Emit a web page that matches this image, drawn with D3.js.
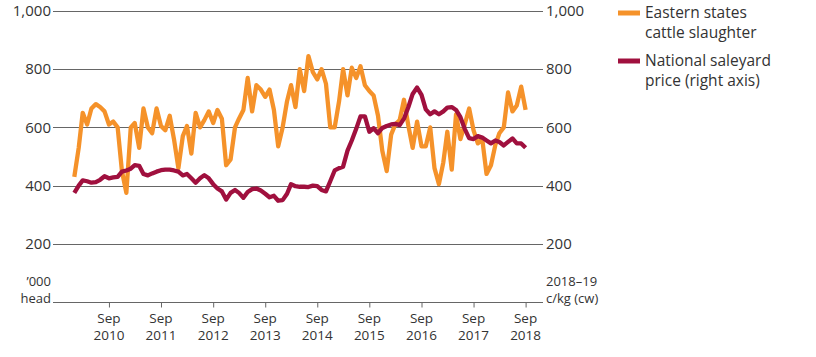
<!DOCTYPE html>
<html><head><meta charset="utf-8">
<script src="https://cdn.jsdelivr.net/npm/d3@7"></script>
<style>
body{margin:0;background:#fff;}
text{font-family:"Open Sans",Lato,sans-serif;fill:#333;}
</style></head>
<body><svg id="c" width="816" height="357"></svg>
<script>
// Monthly data, Jan 2010 – Sep 2018
const startMonth = [2010, 0];
const slaughter = [
 430,530,650,610,665,680,670,655,610,620,600,450,375,600,615,530,665,
 600,580,665,605,590,640,560,460,570,605,510,650,600,625,655,615,660,630,470,
 490,600,630,660,770,655,745,730,705,730,660,535,600,690,745,670,800,725,
 845,790,765,800,750,600,600,690,800,710,805,770,810,745,725,710,640,520,
 450,575,610,625,695,605,530,620,535,535,600,460,405,480,585,455,645,
 560,610,665,590,545,560,440,470,540,580,600,720,655,675,740,660
];
const price = [
 375,400,418,415,410,412,420,432,425,428,430,448,452,458,470,468,440,
 435,442,448,453,455,455,452,448,435,440,425,410,425,436,425,405,390,380,352,
 375,385,375,358,378,388,390,383,372,360,365,348,350,372,405,398,396,396,
 395,400,398,385,380,415,452,460,465,520,555,595,638,638,585,597,580,598,
 605,610,612,608,630,670,715,737,712,662,645,655,645,655,668,670,660,
 635,595,563,560,570,565,555,545,555,550,538,550,562,545,545,530
];
const yTicks = [200, 400, 600, 800, 1000];
const tickYears = [2010,2011,2012,2013,2014,2015,2016,2017,2018];
const seriesNames = ["Eastern states|cattle slaughter", "National saleyard|price (right axis)"];
const colors = ["#f5922a", "#a0103e"];

const svg = d3.select("#c");
const months = slaughter.map((_, i) => new Date(startMonth[0], startMonth[1] + i, 1));
const x = d3.scaleTime().domain([months[0], months[months.length-1]]).range([74.3, 525.6]);
const y = d3.scaleLinear().domain([0, 1000]).range([302, 11]);
const gx0 = 53, gx1 = 543;

// gridlines
svg.append("g").selectAll("line").data(yTicks).join("line")
  .attr("x1", gx0).attr("x2", gx1)
  .attr("y1", d => Math.round(y(d)) + 0.5).attr("y2", d => Math.round(y(d)) + 0.5)
  .attr("stroke", "#666").attr("stroke-width", 1);

// left labels
const fmt = d3.format(",");
svg.append("g").selectAll("text").data(yTicks).join("text")
  .attr("x", 51).attr("y", d => y(d)).attr("dy", "0.35em")
  .attr("text-anchor", "end").attr("font-size", 15).text(d => fmt(d));
// right labels
svg.append("g").selectAll("text").data(yTicks).join("text")
  .attr("x", 546).attr("y", d => y(d)).attr("dy", "0.35em")
  .attr("text-anchor", "start").attr("font-size", 15).text(d => fmt(d));

// two-line labels
function twoLine(xp, yp, anchor, size, l1, l2, gap) {
  const t = svg.append("text").attr("x", xp).attr("y", yp)
    .attr("text-anchor", anchor).attr("font-size", size);
  t.append("tspan").attr("x", xp).text(l1);
  t.append("tspan").attr("x", xp).attr("dy", gap).text(l2);
  return t;
}
twoLine(51, 286, "end", 13, "’000", "head", 17);
twoLine(546, 286, "start", 13, "2018–19", "c/kg (cw)", 17);

// x axis
const xAxis = d3.axisBottom(x)
  .tickValues(tickYears.map(yr => new Date(yr, 8, 1)))
  .tickSize(5).tickFormat("");
const ax = svg.append("g").attr("transform", "translate(0,302.5)").call(xAxis);
ax.select(".domain").remove();
ax.selectAll("line").attr("stroke", "#666");
svg.append("line").attr("x1", gx0).attr("x2", gx1).attr("y1", 302.5).attr("y2", 302.5).attr("stroke", "#666");
tickYears.forEach(yr => {
  twoLine(x(new Date(yr, 8, 1)), 322.5, "middle", 13.5, "Sep", String(yr), 17.5);
});

// lines
const line = d3.line().x((d, i) => x(months[i])).y(d => y(d));
[slaughter, price].forEach((s, k) => {
  svg.append("path").datum(s).attr("d", line).attr("fill", "none")
    .attr("stroke", colors[k]).attr("stroke-width", 4.3).attr("stroke-linejoin", "round");
});

// legend
seriesNames.forEach((d, i) => {
  const oy = i * 48;
  svg.append("line").attr("x1", 618).attr("x2", 640).attr("y1", 13 + oy).attr("y2", 13 + oy)
    .attr("stroke", colors[i]).attr("stroke-width", 5);
  const parts = d.split("|");
  twoLine(645, 18 + oy, "start", 15.5, parts[0], parts[1], 20);
});
</script></body></html>
